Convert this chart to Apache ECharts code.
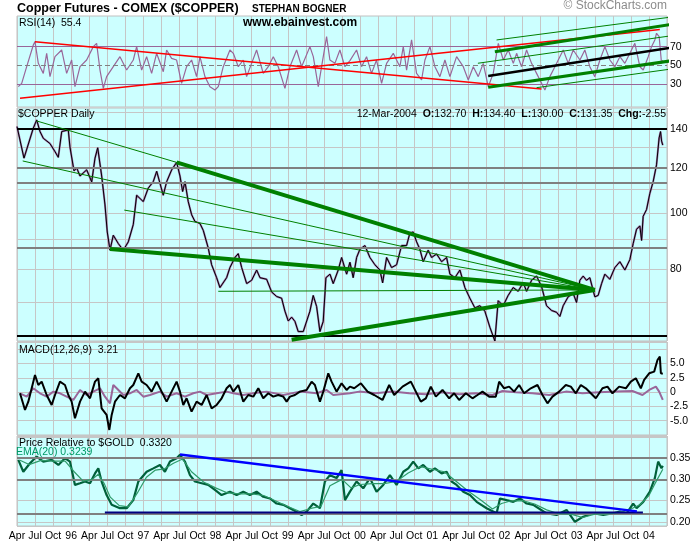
<!DOCTYPE html>
<html>
<head>
<meta charset="utf-8">
<title>Copper Futures - COMEX ($COPPER)</title>
<script src="https://cdn.jsdelivr.net/npm/echarts@6/dist/echarts.min.js"></script>
<style>
html,body{margin:0;padding:0;background:#fff}
#main{width:700px;height:546px}
</style>
</head>
<body>
<div id="main"></div>
<script>
// x values are months counted from Jan 1995 (3 = Apr 95, 108 = Jan 04)
var priceMonths = [
  3.0,4.16,5.71,6.27,6.82,7.37,8.48,9.31,9.86,10.43,
  11.52,11.8,12.47,12.92,13.47,14.58,15.41,15.96,16.41,17.07,
  17.62,18.0,18.45,19.0,19.83,20.66,21.49,22.32,22.88,23.98,
  24.81,25.64,26.21,27.3,27.87,28.7,29.53,30.08,30.52,30.91,
  31.45,32.02,32.57,33.4,33.95,34.78,35.34,36.17,36.72,37.83,
  38.38,39.21,39.76,40.33,41.16,41.99,42.82,43.37,44.48,45.31,
  46.14,46.97,47.52,48.07,48.63,49.18,49.73,50.56,51.67,52.22,
  52.78,53.33,53.88,54.33,55.0,55.54,56.37,56.94,57.77,58.32,
  58.86,59.43,59.98,60.81,61.64,62.47,63.3,63.75,64.41,65.24,
  66.07,66.9,67.73,68.28,68.83,69.4,69.94,70.49,71.32,71.89,
  72.72,73.55,74.38,74.93,75.76,76.59,77.42,78.25,79.08,79.91,
  80.74,81.57,82.4,82.95,83.78,84.61,85.44,86.27,87.1,87.67,
  88.5,89.33,90.16,90.99,91.82,92.65,93.2,93.75,94.58,95.41,
  95.97,96.52,97.07,97.63,98.18,99.01,99.56,100.13,100.67,101.5,
  102.34,103.17,104.0,104.83,105.38,105.94,106.49,106.78,107.04,107.6,
  108.15,108.7,109.26,109.69,109.93,110.1,110.3
];
var priceValues = [
  141.5,124.7,140.6,145.3,138.7,135,132.2,128,125.1,138.7,
  139.6,130.4,118.5,119.9,116.1,119,113.4,124.7,130,116.1,
  103.4,92.8,86.3,91.6,88.6,86.3,89.2,95.6,107.5,104.8,
  110.6,113.5,118.3,107.5,113.5,119,122.6,116.1,109.1,113.5,
  104.8,99.4,96.8,96,93.4,87,81.4,77.3,74.3,77.3,
  80.5,83.8,85.1,80.5,75.5,76.5,79.7,77.3,76.8,73,
  71.7,71.2,67.6,65,66,64.9,62.3,62.3,67.6,72,
  68.9,62.3,64.9,77.3,78.4,75.5,79.7,83.8,78.4,82.2,
  77.3,83.8,86.6,87.9,83.8,81.4,79.7,75.7,83.8,80.5,
  81.4,87.9,87.9,92.4,92.8,89.2,86.6,82.4,86.3,83.8,
  85,82.4,83.8,78.4,77.3,79.7,74.3,71.2,68.5,69.1,
  67.6,63.4,60,70.5,69.1,72,74.3,73.2,75.8,73.2,
  76.5,77.8,74.6,69.1,67.8,67.3,66.2,69.1,71.6,72.6,
  70,76.5,77.8,76.5,77.3,71.6,72,75.5,78.4,76.8,
  80.5,82.4,79.7,83.1,88.6,93.8,95.1,89.7,98.8,101.5,
  108.3,113.5,121.4,135.2,138.7,133.5,131.35
];

var rsiMonths = [
  3.22,3.78,4.61,5.71,5.99,6.54,7.37,7.93,8.48,9.31,
  10.42,11.25,12.08,12.63,13.47,14.57,15.68,16.23,16.79,17.34,
  17.89,19.0,20.11,21.22,22.32,22.88,23.71,24.54,25.37,26.2,
  27.31,27.86,28.69,29.52,30.35,31.18,32.01,32.84,33.4,34.23,
  35.06,35.89,36.44,37.27,38.38,38.94,39.77,40.6,41.15,41.98,
  42.81,43.92,44.75,45.58,46.41,47.52,48.35,49.46,50.29,51.67,
  52.23,53.06,53.61,54.44,54.99,55.82,56.65,57.48,58.32,59.42,
  60.25,61.08,61.91,62.74,63.58,64.41,65.52,66.62,67.18,67.73,
  68.56,69.39,70.22,70.78,71.61,72.44,73.27,74.1,74.93,76.04,
  77.15,77.98,78.81,79.64,80.47,81.3,82.13,82.97,83.8,84.63,
  85.46,86.01,86.84,87.67,88.5,89.33,90.16,90.71,91.54,92.37,
  93.2,93.76,94.59,95.42,96.53,97.35,98.18,99.01,99.85,100.68,
  101.51,102.34,103.17,104.0,104.83,105.66,106.49,107.05,107.88,108.43,
  108.98,109.26,109.7,110.09,110.3
];
var rsiValues = [
  26.9,30.5,48.4,71.8,75.4,52.0,41.2,62.8,37.7,59.2,
  66.4,41.2,55.6,26.9,48.4,55.6,70.0,73.6,44.8,25.1,
  37.7,48.4,59.2,44.8,55.6,70.0,44.8,59.2,41.2,62.8,
  43.0,66.4,57.4,55.6,30.5,48.4,55.6,37.7,59.2,37.7,
  26.9,23.3,26.9,48.4,66.4,62.8,48.4,55.6,37.7,52.0,
  66.4,41.2,48.4,59.2,48.4,25.1,48.4,66.4,48.4,70.0,
  59.2,26.9,48.4,80.7,55.6,52.0,66.4,48.4,55.0,66.4,
  48.4,59.2,41.2,55.6,30.5,52.0,62.8,48.4,70.0,44.8,
  77.2,41.2,34.1,55.6,70.0,48.4,37.7,55.6,37.7,59.2,
  48.4,34.1,48.4,37.7,52.0,26.9,41.2,73.6,55.6,66.4,
  52.0,62.8,48.4,66.4,52.0,41.2,30.5,23.3,37.7,48.4,
  59.2,66.4,52.0,66.4,55.6,66.4,48.4,37.7,55.6,70.0,
  55.6,48.4,59.2,52.0,62.8,73.6,48.4,44.8,59.2,70.0,
  77.2,84.4,80.7,52.0,55.4
];

var macdMonths = [
  3.5,4.33,4.88,5.99,6.54,7.1,7.93,8.76,9.31,10.14,
  10.97,11.53,12.08,12.63,13.47,14.3,15.13,15.96,16.51,17.06,
  17.89,18.34,18.73,19.28,20.11,20.94,21.77,22.32,23.16,23.71,
  24.54,25.37,26.2,27.03,27.86,28.69,29.52,30.08,30.63,31.18,
  32.01,32.84,33.68,34.51,35.34,36.17,37.0,37.83,38.38,38.94,
  39.77,40.6,41.43,42.26,43.09,43.92,44.75,45.58,46.41,47.24,
  47.8,48.35,49.18,50.01,51.12,51.95,52.5,53.33,53.89,54.72,
  55.27,56.1,56.93,57.76,58.32,59.03,60.14,61.25,62.35,63.73,
  64.84,65.67,67.06,68.44,69.27,70.1,70.93,71.76,72.59,73.7,
  74.81,75.64,76.47,77.57,78.68,79.51,80.34,81.45,82.56,83.11,
  83.94,84.77,85.6,86.43,87.26,88.37,89.48,90.31,91.14,91.97,
  93.08,94.19,95.02,95.85,96.68,97.51,98.34,99.17,100.28,101.11,
  101.94,103.05,104.16,104.99,105.82,106.65,107.2,108.04,108.87,109.42,
  109.81,109.98,110.3
];
var macdValues = [
  -0.21,-3.13,-1.67,2.99,1.24,1.82,-0.51,-2.25,-0.51,1.82,
  1.24,-0.51,-1.67,-4.58,-1.67,0.08,-1.09,1.82,2.41,-2.84,
  -4.0,-6.62,-4.0,-1.67,-0.51,-1.09,0.66,1.24,3.28,1.82,
  1.24,0.08,1.82,0.08,-1.67,0.08,1.82,0.08,-2.25,-1.09,
  -3.42,-1.67,-2.25,-0.51,-2.84,-2.25,-1.09,0.66,1.24,0.08,
  1.24,-1.67,-0.51,-0.8,0.66,-1.09,-0.21,-0.8,-0.51,-0.8,
  -1.67,-0.8,-0.51,0.08,0.37,1.82,1.24,-1.67,0.08,3.28,
  1.82,0.08,1.53,0.37,0.95,0.66,1.53,0.08,-0.51,-1.38,
  1.24,-0.51,0.95,1.82,0.08,-1.67,-1.09,0.95,-0.8,0.37,
  -1.09,-0.21,-1.38,-0.21,-1.09,-0.51,0.08,-0.8,-0.8,1.82,
  0.66,0.95,0.08,1.24,-0.21,0.66,1.24,-0.51,-1.96,-0.8,
  0.08,1.24,0.95,-0.21,1.24,0.66,-0.21,-1.09,0.66,0.95,
  -0.21,0.95,0.66,1.82,2.41,0.66,2.12,3.28,3.57,5.61,
  6.19,3.28,3.21
];

var histMonths = [
  3.5,4.61,5.71,6.82,7.93,9.04,10.14,11.25,12.36,13.47,
  14.57,15.68,16.79,17.62,18.45,19.0,19.56,20.66,21.77,22.88,
  23.99,25.09,26.75,27.86,29.52,30.91,32.29,33.4,34.51,36.17,
  37.83,38.94,40.6,42.26,44.47,47.24,50.01,52.78,54.44,55.55,
  58.32,59.86,62.63,65.39,68.16,70.93,73.7,76.47,79.24,82.0,
  83.66,85.88,88.65,91.42,94.19,96.96,99.73,102.49,105.26,106.93,
  108.04,109.15,109.7,110.3
];
var histValues = [
  -0.21,-0.8,0.66,-0.21,-0.8,0.08,-0.21,-0.8,-1.38,0.37,
  -0.51,0.08,0.66,-0.8,-1.96,1.24,0.66,-0.51,-0.21,0.37,
  -0.8,-0.51,0.08,-0.8,-0.21,-0.8,-0.21,0.08,-0.51,-0.21,
  0.08,-0.21,-0.51,-0.21,0.08,-0.51,0.08,-0.21,0.37,-0.51,
  -0.21,0.08,-0.21,0.08,-0.21,-0.4,-0.04,-0.4,-0.21,-0.51,
  0.19,-0.04,-0.21,-0.51,0.08,-0.21,-0.04,0.08,0.19,-0.51,
  0.37,0.95,0.08,-1.38
];

var prMonths = [
  3.22,4.05,5.16,6.27,7.37,8.76,9.87,10.97,11.8,12.63,
  13.47,14.3,15.13,15.96,16.51,17.06,17.89,18.73,20.11,21.22,
  22.32,23.16,24.54,25.65,26.75,27.58,28.42,29.52,30.08,30.91,
  31.74,32.57,33.68,34.78,35.89,36.99,38.38,39.49,40.6,41.7,
  42.81,43.92,45.03,46.13,47.24,48.35,48.9,50.29,51.12,52.23,
  53.33,54.16,54.99,56.1,56.93,57.49,58.32,59.42,60.53,61.64,
  62.74,63.85,64.96,66.07,67.18,68.01,68.84,69.67,70.5,71.61,
  72.44,73.55,74.38,75.21,76.04,77.15,78.26,79.37,81.03,82.69,
  83.25,84.35,85.46,86.57,87.67,88.78,90.94,92.65,94.31,95.7,
  97.08,98.74,100.4,102.07,103.17,104.28,105.38,105.94,107.05,108.15,
  108.98,109.53,109.81,110.09,110.3
];
var prValues = [
  0.346,0.318,0.338,0.354,0.342,0.346,0.334,0.35,0.342,0.287,
  0.291,0.295,0.291,0.314,0.326,0.295,0.263,0.24,0.232,0.232,
  0.251,0.295,0.318,0.326,0.334,0.318,0.342,0.35,0.358,0.342,
  0.31,0.295,0.291,0.287,0.275,0.263,0.271,0.263,0.271,0.263,
  0.271,0.259,0.255,0.243,0.24,0.232,0.228,0.216,0.224,0.243,
  0.232,0.295,0.31,0.303,0.322,0.251,0.271,0.295,0.279,0.303,
  0.271,0.287,0.31,0.287,0.318,0.326,0.342,0.326,0.334,0.318,
  0.326,0.314,0.318,0.295,0.287,0.271,0.263,0.247,0.232,0.22,
  0.255,0.251,0.247,0.255,0.243,0.24,0.22,0.216,0.228,0.2,
  0.212,0.22,0.216,0.22,0.224,0.22,0.243,0.232,0.247,0.271,
  0.303,0.342,0.346,0.326,0.332
];

var emaMonths = [
  3.5,5,7,9,11,12.5,14,15.5,16.5,17.5,
  18.5,20,21.5,23,24.5,26,27.5,29,30.5,32,
  34,36,38,40,42,44,46,48,50,52,
  53.5,55,57,58.5,60,62,64,66,68,70,
  72,74,76,78,80,82,83.5,85,87,89,
  91,93,95,97,99,101,103,105,106.5,108,
  109,110.3
];
var emaValues = [
  0.345,0.335,0.345,0.343,0.343,0.318,0.296,0.3,0.312,0.29,
  0.258,0.238,0.235,0.268,0.305,0.322,0.325,0.338,0.348,0.318,
  0.294,0.28,0.268,0.266,0.266,0.262,0.249,0.236,0.224,0.232,
  0.236,0.285,0.3,0.28,0.288,0.29,0.29,0.295,0.315,0.33,
  0.324,0.318,0.295,0.272,0.252,0.23,0.243,0.249,0.25,0.242,
  0.228,0.219,0.218,0.21,0.218,0.218,0.222,0.23,0.24,0.262,
  0.29,0.3239
];

// drawn trendlines: [month, value] end points
var rsiRedFalling = [[5.99, 75.3], [90.16, 24.4]];
var rsiRedRising = [[3.5, 14.4], [109.81, 88.5]];
var rsiBlackMid = [[81.29, 38.4], [116.46, 73.6]];
var rsiGreenThick = [
  [[81.29, 26.2], [116.46, 59.2]],
  [[82.4, 64.6], [116.46, 98.7]]
];
var rsiGreenThin = [
  [[82.68, 77.2], [116.46, 105.9]],
  [[79.58, 52.1], [116.46, 86.1]],
  [[89.33, 25.8], [116.46, 50.2]]
];
var priceFanThin = [
  [[6.27, 144.7], [29.53, 122.6]],
  [[3.95, 123.3], [99.01, 73.6]],
  [[20.82, 101.3], [99.01, 73.6]],
  [[36.44, 73.2], [99.01, 73.6]]
];
var priceFanThick = [
  [[29.53, 122.6], [99.01, 73.6]],
  [[18.45, 86.7], [99.01, 73.6]],
  [[48.63, 60.3], [99.01, 73.6]]
];
var prBlueLine = [[30.08, 0.359], [106.0, 0.2245]];
var prNavyLine = [[17.6, 0.2218], [107.0, 0.2218]];

var priceLevelsBlack = [140, 61.3];
var priceLevelsGray = [120, 113.1, 87.2];
var prLevelsGray = [0.35, 0.30, 0.2218];
var rsiBands = [70, 30];
var rsiMid = 50;

var priceLabels = [80, 100, 120, 140];
var priceGridValues = [60, 70, 80, 90, 100, 110, 120, 130, 140, 150];
var quarterNames = {3: 'Apr', 6: 'Jul', 9: 'Oct'};

var FONT = '"Liberation Sans", Arial, sans-serif';
var GRIDLINE = '#c6c6c6';

function zip(xs, ys) {
  var out = [];
  for (var i = 0; i < xs.length; i++) out.push([xs[i], ys[i]]);
  return out;
}

function line(g, data, color, width, z, clip) {
  return {
    type: 'line', xAxisIndex: g, yAxisIndex: g, data: data,
    symbol: 'none', silent: true, animation: false, z: z || 2,
    clip: clip === undefined ? true : clip,
    lineStyle: {color: color, width: width}
  };
}

function levels(items) {
  return {
    symbol: ['none', 'none'], silent: true, animation: false,
    label: {show: false},
    data: items
  };
}

var chart = echarts.init(document.getElementById('main'), null, {renderer: 'canvas'});

var grids = [
  {left: 17, right: 33, top: 16, height: 91},
  {left: 17, right: 33, top: 108, height: 233},
  {left: 17, right: 33, top: 342, height: 93},
  {left: 17, right: 33, top: 436, height: 90}
];
grids.forEach(function (g) {
  g.show = true; g.backgroundColor = '#ccffff';
  g.borderColor = '#c0c0c0'; g.borderWidth = 1;
});

var xAxes = [0, 1, 2, 3].map(function (i) {
  return {
    type: 'value', gridIndex: i, min: 3, max: 111, interval: 3,
    axisLine: {show: false}, axisTick: {show: false},
    splitLine: {show: true, lineStyle: {color: GRIDLINE, width: 1}},
    axisLabel: {
      show: i === 3, showMaxLabel: false, margin: 5,
      fontFamily: FONT, fontSize: 10.5, color: '#000',
      formatter: function (v) {
        var k = Math.round(v), mo = k % 12;
        if (mo === 0) {
          var yy = (1995 + k / 12) % 100;
          return (yy < 10 ? '0' : '') + yy;
        }
        return quarterNames[mo] || '';
      }
    }
  };
});

var labelStyle = {fontFamily: FONT, fontSize: 10.5, color: '#000', margin: 3};

var yAxes = [
  {
    type: 'value', gridIndex: 0, position: 'right', min: 5, max: 103, interval: 5,
    axisLine: {show: false}, axisTick: {show: false}, splitLine: {show: false},
    axisLabel: Object.assign({}, labelStyle, {
      formatter: function (v) { return (v === 30 || v === 50 || v === 70) ? String(v) : ''; }
    })
  },
  {
    type: 'log', logBase: 10, gridIndex: 1, position: 'right', min: 60, max: 152.4,
    axisLine: {show: false},
    axisTick: {show: false, customValues: priceGridValues},
    splitLine: {show: true, lineStyle: {color: GRIDLINE, width: 1}},
    axisLabel: Object.assign({}, labelStyle, {customValues: priceLabels})
  },
  {
    type: 'value', gridIndex: 2, position: 'right', min: -7.5, max: 8.75, interval: 2.5,
    axisLine: {show: false}, axisTick: {show: false},
    splitLine: {show: true, lineStyle: {color: GRIDLINE, width: 1}},
    axisLabel: Object.assign({}, labelStyle, {
      formatter: function (v) {
        if (Math.abs(v) > 5.01) return '';
        return Math.abs(v) < 1e-9 ? '0' : v.toFixed(1);
      }
    })
  },
  {
    type: 'value', gridIndex: 3, position: 'right', min: 0.19, max: 0.4024, splitNumber: 4,
    axisLine: {show: false}, axisTick: {show: false},
    splitLine: {show: true, lineStyle: {color: GRIDLINE, width: 1}},
    axisLabel: Object.assign({}, labelStyle, {
      showMinLabel: false, showMaxLabel: false,
      formatter: function (v) { return (v > 0.195 && v < 0.36) ? v.toFixed(2) : ''; }
    })
  }
];

var series = [];

// RSI panel
var rsiSeries = line(0, zip(rsiMonths, rsiValues), '#996699', 1.2, 3);
rsiSeries.markLine = levels(
  rsiBands.map(function (v) { return {yAxis: v, lineStyle: {color: '#996699', width: 1, type: 'solid'}}; })
    .concat([{yAxis: rsiMid, lineStyle: {color: '#808080', width: 1, type: [5, 3]}}])
);
series.push(rsiSeries);
series.push(line(0, rsiRedFalling, '#ff0000', 1.5, 5, false));
series.push(line(0, rsiRedRising, '#ff0000', 1.5, 5, false));
rsiGreenThin.forEach(function (d) { series.push(line(0, d, '#008000', 1, 6, false)); });
rsiGreenThick.forEach(function (d) { series.push(line(0, d, '#008000', 3, 6, false)); });
series.push(line(0, rsiBlackMid, '#000000', 2.5, 7, false));

// price panel
var priceData = zip(priceMonths, priceValues);
var priceBars = line(1, priceData, '#a070a8', 2, 3);
priceBars.markLine = levels(
  priceLevelsBlack.map(function (v) { return {yAxis: v, lineStyle: {color: '#000', width: 2, type: 'solid'}}; })
    .concat(priceLevelsGray.map(function (v) { return {yAxis: v, lineStyle: {color: '#808080', width: 2, type: 'solid'}}; }))
);
series.push(priceBars);
series.push(line(1, priceData, '#000000', 1, 4));
priceFanThin.forEach(function (d) { series.push(line(1, d, '#008000', 1, 6)); });
priceFanThick.forEach(function (d) { series.push(line(1, d, '#008000', 4, 6)); });

// MACD panel
series.push(line(2, zip(histMonths, histValues), '#996699', 2, 3));
series.push(line(2, zip(macdMonths, macdValues), '#000000', 2, 4));

// price relative panel
var prSeries = line(3, zip(prMonths, prValues), '#00603a', 2.2, 4);
prSeries.markLine = levels(
  prLevelsGray.map(function (v) { return {yAxis: v, lineStyle: {color: '#808080', width: 2, type: 'solid'}}; })
);
series.push(prSeries);
series.push(line(3, zip(emaMonths, emaValues), '#2e9b6a', 1.2, 5));
series.push(line(3, prNavyLine, '#000080', 2, 6));
series.push(line(3, prBlueLine, '#0000ff', 2.5, 7));

function txt(text, pos, style) {
  var t = {text: text, padding: 0, itemGap: 0,
    textStyle: Object.assign({fontFamily: FONT, fontSize: 10.5, fontWeight: 'normal', color: '#000'}, style || {})};
  return Object.assign(t, pos);
}

var titles = [
  txt('Copper Futures - COMEX ($COPPER)', {left: 17, top: 2}, {fontSize: 12.5, fontWeight: 'bold'}),
  txt('STEPHAN BOGNER', {left: 252, top: 4}, {fontSize: 10, fontWeight: 'bold'}),
  txt('\u00a9 StockCharts.com', {right: 33, top: 0}, {fontSize: 12, color: '#8c8c8c'}),
  txt('www.ebainvest.com', {left: 243, top: 17}, {fontSize: 12, fontWeight: 'bold'}),
  txt('RSI(14)  55.4', {left: 19, top: 18}),
  txt('$COPPER Daily', {left: 18, top: 109}),
  txt('12-Mar-2004  {b|O:}132.70  {b|H:}134.40  {b|L:}130.00  {b|C:}131.35  {b|Chg:}-2.55',
    {right: 34, top: 109},
    {rich: {b: {fontFamily: FONT, fontSize: 10.5, fontWeight: 'bold', color: '#000'}}}),
  txt('MACD(12,26,9)  3.21', {left: 19, top: 345}),
  txt('Price Relative to $GOLD  0.3320', {left: 19, top: 438}),
  txt('EMA(20) 0.3239', {left: 16, top: 447}, {color: '#009966'})
];

chart.setOption({
  backgroundColor: '#ffffff',
  animation: false,
  title: titles,
  grid: grids,
  xAxis: xAxes,
  yAxis: yAxes,
  series: series
});
</script>
</body>
</html>
